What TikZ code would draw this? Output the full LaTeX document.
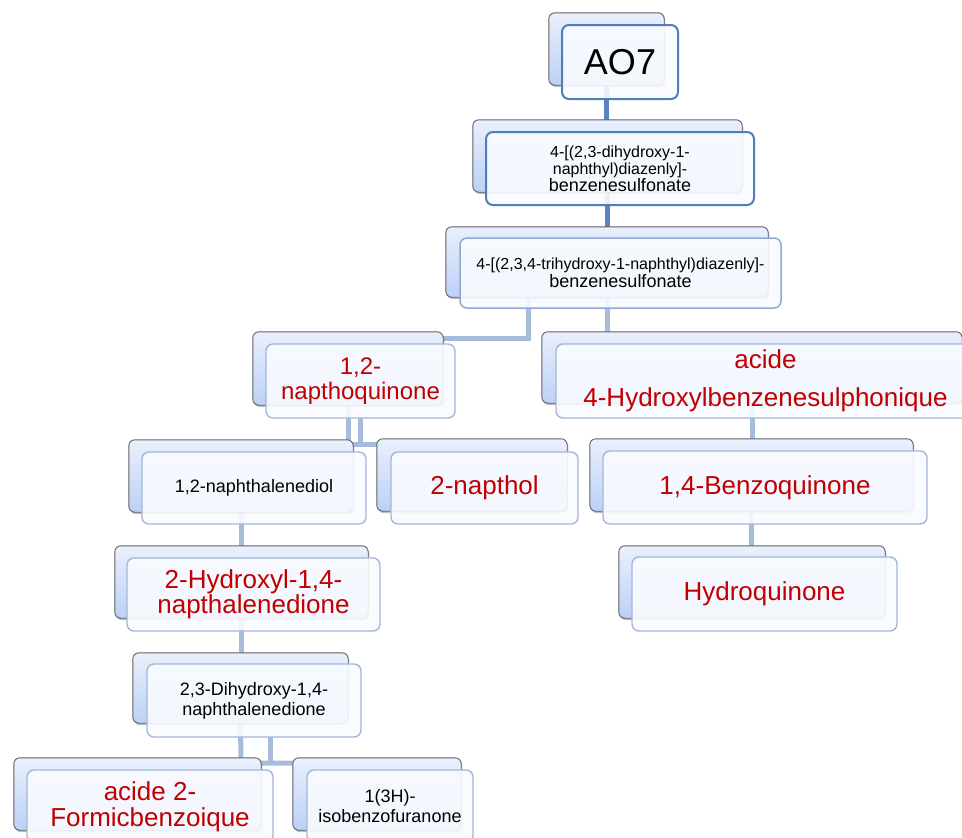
\documentclass[tikz,border=0pt]{standalone}
\usepackage{fontspec}
\setmainfont{Liberation Sans}
\usetikzlibrary{shadows}
\definecolor{redtxt}{HTML}{C00000}
\definecolor{darkconn}{HTML}{5B83C0}
\definecolor{lightconn}{HTML}{A7BBDB}
\definecolor{backtop}{HTML}{EAF0FC}
\definecolor{backbot}{HTML}{BCD0F7}
\definecolor{frontline}{HTML}{A3B7DA}
\definecolor{frontdark}{HTML}{4F7EBD}
\definecolor{frontmid}{HTML}{8FA9D6}
\definecolor{frontfill}{HTML}{F9FBFF}
\begin{document}
\begin{tikzpicture}[x=1pt,y=-1pt,
  backcard/.style={draw=black!62, line width=0.9pt, rounded corners=6pt,
    top color=backtop, bottom color=backbot, inner sep=0pt,
    drop shadow={shadow xshift=1.2pt, shadow yshift=-2pt, opacity=0.25, fill=black}},
  frontcard/.style={draw=frontline, line width=1.4pt, rounded corners=7pt,
    fill=frontfill, fill opacity=0.9, text opacity=1, inner sep=0pt, align=center},
  darkedge/.style={draw=frontdark, line width=2pt},
  midedge/.style={draw=frontmid, line width=1.5pt},
  redbig/.style={text=redtxt, font=\fontsize{26}{25}\selectfont},
  blacksmall/.style={text=black, font=\fontsize{18}{20}\selectfont},
  chemsmall/.style={text=black, font=\fontsize{16}{17}\selectfont},
  dconn/.style={draw=darkconn, line width=5pt},
  lconn/.style={draw=lightconn, line width=5pt}
]
\useasboundingbox (0,0) rectangle (962,838);

% ---------- junction coordinates ----------
\coordinate (j1) at (528,338);
\coordinate (j2) at (348,444);
\coordinate (j3) at (241,763);
\coordinate (j4) at (270,763);

% ---------- invisible placeholders for anchors (back cards) ----------
\path
  node[minimum width=115pt, minimum height=72pt, inner sep=0pt] (ao7b) at (606.5,49) {}
  node[minimum width=269pt, minimum height=72pt, inner sep=0pt] (n2b) at (607.5,156) {}
  node[minimum width=322pt, minimum height=70pt, inner sep=0pt] (n3b) at (607,262) {}
  node[minimum width=190pt, minimum height=73pt, inner sep=0pt] (nqb) at (348,368.5) {}
  node[minimum width=420pt, minimum height=71pt, inner sep=0pt] (n5b) at (752,367.5) {}
  node[minimum width=224pt, minimum height=72pt, inner sep=0pt] (n6b) at (241,476) {}
  node[minimum width=190pt, minimum height=72pt, inner sep=0pt] (n7b) at (472,475) {}
  node[minimum width=323pt, minimum height=72pt, inner sep=0pt] (n8b) at (751.5,475) {}
  node[minimum width=266pt, minimum height=72pt, inner sep=0pt] (n9b) at (752,582) {}
  node[minimum width=253pt, minimum height=72pt, inner sep=0pt] (n10b) at (241.5,582) {}
  node[minimum width=215pt, minimum height=70pt, inner sep=0pt] (n11b) at (240.5,688) {}
  node[minimum width=247pt, minimum height=72pt, inner sep=0pt] (n12b) at (137.5,794) {}
  node[minimum width=168pt, minimum height=72pt, inner sep=0pt] (n13b) at (377,794) {};

% ---------- connectors ----------
\draw[dconn] (ao7b.south) -- (ao7b.south |- n2b.north);
\draw[dconn] (n2b.south) -- (n2b.south |- n3b.north);
\draw[lconn] (n3b.south -| j1) -- (j1) -- (nqb.east |- j1);
\draw[lconn] (n3b.south) -- (n3b.south |- n5b.north);
\draw[lconn] (nqb.south) -- (j2) -- (n7b.west |- j2);
\draw[lconn] (360.5,418) -- (360.5,444);
\draw[lconn] (n5b.south) -- (n5b.south |- n8b.north);
\draw[lconn] (n8b.south) -- (n8b.south |- n9b.north);
\draw[lconn] (n6b.south) -- (n6b.south |- n10b.north);
\draw[lconn] (n10b.south) -- (n10b.south |- n11b.north);
\draw[lconn] (n11b.south) -- (j3) -- (n13b.west |- j3);
\draw[lconn] (270,737) -- (j4);

% ---------- back cards ----------
\foreach \b in {ao7b,n2b,n3b,nqb,n5b,n6b,n7b,n8b,n9b,n10b,n11b,n12b,n13b}{
  \path[backcard] (\b.north west) rectangle (\b.south east);
}

% ---------- front cards ----------
\node[frontcard, darkedge, minimum width=116pt, minimum height=74pt,
      font=\fontsize{36}{36}\selectfont] (ao7) at (620,62) {AO7};
\node[frontcard, darkedge, minimum width=268pt, minimum height=73pt, chemsmall]
      (n2) at (620,168.5)
      {4-[(2,3-dihydroxy-1-\\naphthyl)diazenly]-\\{\fontsize{18}{17}\selectfont benzenesulfonate}};
\node[frontcard, midedge, minimum width=321pt, minimum height=70pt, chemsmall]
      (n3) at (620.5,273)
      {4-[(2,3,4-trihydroxy-1-naphthyl)diazenly]-\\[1pt]{\fontsize{18}{17}\selectfont benzenesulfonate}};
\node[frontcard, minimum width=189pt, minimum height=74pt, text=redtxt,
      font=\fontsize{24}{25}\selectfont] (nq) at (360.5,381) {1,2-\\napthoquinone};
\node[frontcard, minimum width=419pt, minimum height=74pt, redbig]
      (n5) at (765.5,381) {acide\\[13pt]4-Hydroxylbenzenesulphonique};
\node[frontcard, minimum width=224pt, minimum height=72pt, blacksmall]
      (n6) at (254,488) {1,2-naphthalenediol};
\node[frontcard, minimum width=187pt, minimum height=72pt, redbig]
      (n7) at (484.5,488) {2-napthol};
\node[frontcard, minimum width=324pt, minimum height=73pt, redbig]
      (n8) at (765,487.5) {1,4-Benzoquinone};
\node[frontcard, minimum width=265pt, minimum height=74pt, redbig]
      (n9) at (764.5,594) {Hydroquinone};
\node[frontcard, minimum width=253pt, minimum height=73pt, redbig]
      (n10) at (253.5,594.5) {2-Hydroxyl-1,4-\\napthalenedione};
\node[frontcard, minimum width=214pt, minimum height=73pt, blacksmall]
      (n11) at (254,700.5) {2,3-Dihydroxy-1,4-\\naphthalenedione};
\node[frontcard, minimum width=246pt, minimum height=73pt, text=redtxt,
      font=\fontsize{26}{26}\selectfont] (n12) at (150,806.5) {acide 2-\\Formicbenzoique};
\node[frontcard, minimum width=166pt, minimum height=73pt, blacksmall]
      (n13) at (390,806.5) {1(3H)-\\isobenzofuranone};
\end{tikzpicture}
\end{document}
